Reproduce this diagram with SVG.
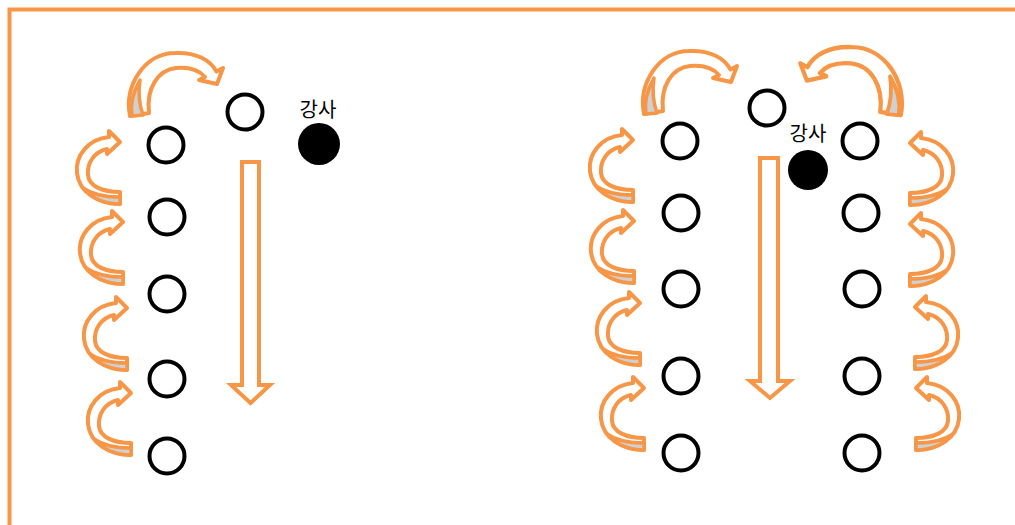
<svg xmlns="http://www.w3.org/2000/svg" xmlns:xlink="http://www.w3.org/1999/xlink" width="1015" height="525" viewBox="0 0 1015 525">
<style>
.frame{fill:none;stroke:#F79646;stroke-width:4}
.seat{fill:#fff;stroke:#000;stroke-width:4}
.teacher{fill:#000}
.lbl{font-family:"Noto Sans CJK KR","Noto Sans",sans-serif;font-size:20px;fill:#000;text-anchor:middle}
.arw{fill:#fff;stroke:#F79646;stroke-width:4;stroke-linejoin:round}
.back{fill:#D0D0D0;stroke:#F79646;stroke-width:3.5;stroke-linejoin:round}
.darw{fill:#fff;stroke:#F79646;stroke-width:4;stroke-linejoin:miter}
</style>
<defs>
<g id="carrow">
<path class="arw" d="M 0 0 L -11 -11 L -11 -5 C -32 -3 -45 14 -43 31 C -41 50 -22 62 0 62 L 0 50 C -18 50 -31 44 -32 33 C -33 21 -26 10 -13 7 L -13 12 Z"/>
<path class="back" d="M 0 62 C -15 62 -29 56 -37 46 C -27 53 -14 55 0 55 Z"/>
</g>
<g id="tarrow">
<path class="arw" d="M 130 116 C 124 85 145 53 175 53 C 196 52 210 60 216.5 71.5 L 223 68 L 217 84 L 199 80 L 205 77 C 199 70 188 67 176 68 C 158 70 146 88 149 113 Z"/>
<path class="back" d="M 132 116 C 130 104 133 92 140 80 C 138 93 139 104 143 115 Z"/>
</g>
</defs>
<rect width="1015" height="525" fill="#fff"/>
<path class="frame" d="M 9.5 525 L 9.5 9.5 L 1015 9.5"/>

<g id="left-room">
<g id="L-seat-top"><circle class="seat" cx="245" cy="112" r="17.5"/></g>
<g id="L-seat-1"><circle class="seat" cx="166" cy="145" r="17.5"/></g>
<g id="L-seat-2"><circle class="seat" cx="167" cy="217" r="17.5"/></g>
<g id="L-seat-3"><circle class="seat" cx="167" cy="294" r="17.5"/></g>
<g id="L-seat-4"><circle class="seat" cx="167" cy="379" r="17.5"/></g>
<g id="L-seat-5"><circle class="seat" cx="167" cy="456" r="17.5"/></g>
<g id="L-teacher"><circle class="teacher" cx="319" cy="144" r="21"/><text class="lbl" x="318" y="117">강사</text></g>
</g>

<g id="right-room">
<g id="R-seat-top"><circle class="seat" cx="767" cy="108" r="17.5"/></g>
<g id="R-seat-L1"><circle class="seat" cx="680" cy="141" r="17.5"/></g>
<g id="R-seat-L2"><circle class="seat" cx="681" cy="213" r="17.5"/></g>
<g id="R-seat-L3"><circle class="seat" cx="681" cy="289" r="17.5"/></g>
<g id="R-seat-L4"><circle class="seat" cx="681" cy="376" r="17.5"/></g>
<g id="R-seat-L5"><circle class="seat" cx="681" cy="453" r="17.5"/></g>
<g id="R-seat-R1"><circle class="seat" cx="860" cy="141" r="17.5"/></g>
<g id="R-seat-R2"><circle class="seat" cx="861" cy="213" r="17.5"/></g>
<g id="R-seat-R3"><circle class="seat" cx="862" cy="289" r="17.5"/></g>
<g id="R-seat-R4"><circle class="seat" cx="862" cy="376" r="17.5"/></g>
<g id="R-seat-R5"><circle class="seat" cx="862" cy="453" r="17.5"/></g>
<g id="R-teacher"><circle class="teacher" cx="808" cy="170" r="20"/><text class="lbl" x="808" y="141">강사</text></g>
</g>

<g id="connectors">
<path class="darw" d="M 242 162 L 259 162 L 259 385 L 270 385 L 250.5 403 L 231 385 L 242 385 Z"/>
<path class="darw" d="M 760 158 L 778 158 L 778 381 L 790 381 L 770 398 L 750 381 L 760 381 Z"/>
<use xlink:href="#tarrow"/>
<use xlink:href="#tarrow" transform="translate(514,-2)"/>
<use xlink:href="#tarrow" transform="translate(890,113) scale(-1.08,1.08) translate(-140,-114)"/>
<use xlink:href="#carrow" transform="translate(120,142)"/>
<use xlink:href="#carrow" transform="translate(123,222)"/>
<use xlink:href="#carrow" transform="translate(127,308)"/>
<use xlink:href="#carrow" transform="translate(131,393)"/>
<use xlink:href="#carrow" transform="translate(633,140)"/>
<use xlink:href="#carrow" transform="translate(634,221)"/>
<use xlink:href="#carrow" transform="translate(640,303)"/>
<use xlink:href="#carrow" transform="translate(644,388)"/>
<use xlink:href="#carrow" transform="translate(910,143) scale(-1,1)"/>
<use xlink:href="#carrow" transform="translate(910,224) scale(-1,1)"/>
<use xlink:href="#carrow" transform="translate(915,307) scale(-1,1)"/>
<use xlink:href="#carrow" transform="translate(916,388) scale(-1,1)"/>
</g>
</svg>
